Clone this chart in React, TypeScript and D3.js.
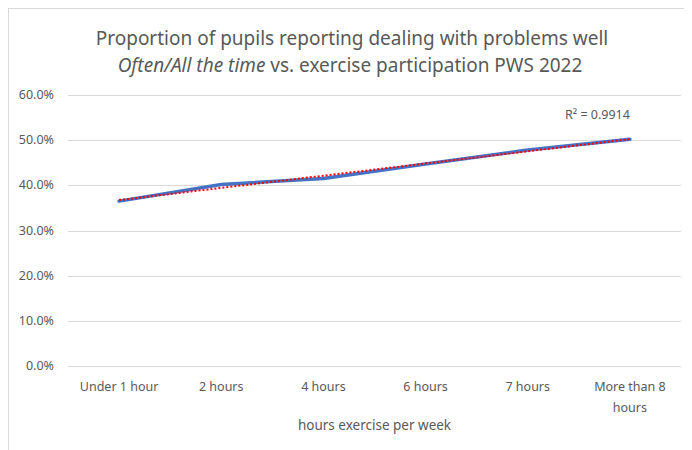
import React, { useEffect, useRef } from "react";
import * as d3 from "d3";

const categories = ["Under 1 hour", "2 hours", "4 hours", "6 hours", "7 hours", "More than 8 hours"];
const proportions = [0.365, 0.402, 0.415, 0.447, 0.478, 0.502];
const yTicks = [0, 0.1, 0.2, 0.3, 0.4, 0.5, 0.6];
const rSquaredLabel = "R² = 0.9914";

const FONT = "'Noto Sans', sans-serif";
const GREY = "#595959";

export default function App() {
  const svgRef = useRef<SVGSVGElement>(null);

  useEffect(() => {
    const svg = d3.select(svgRef.current);
    svg.selectAll("*").remove();

    const width = 684;
    const height = 442;
    const margin = { top: 87, right: 11, bottom: 84, left: 60 };

    // chart frame (only the left and top edges fall inside the picture)
    svg
      .append("rect")
      .attr("x", 0.5)
      .attr("y", 0.5)
      .attr("width", width + 20)
      .attr("height", height + 20)
      .attr("fill", "#fff")
      .attr("stroke", "#d9d9d9");

    const x = d3
      .scaleBand()
      .domain(categories)
      .range([margin.left, width - margin.right])
      .padding(0);

    const y = d3
      .scaleLinear()
      .domain([0, 0.6])
      .range([height - margin.bottom, margin.top]);

    // gridlines
    svg
      .append("g")
      .selectAll("line")
      .data(yTicks)
      .enter()
      .append("line")
      .attr("x1", margin.left)
      .attr("x2", width - margin.right)
      .attr("y1", (d) => Math.round(y(d)) + 0.5)
      .attr("y2", (d) => Math.round(y(d)) + 0.5)
      .attr("stroke", "#d9d9d9")
      .attr("stroke-width", 1);

    // y tick labels
    svg
      .append("g")
      .selectAll("text")
      .data(yTicks)
      .enter()
      .append("text")
      .attr("x", margin.left - 14)
      .attr("y", (d) => y(d) + 4)
      .attr("text-anchor", "end")
      .style("font-family", FONT)
      .style("font-size", "12.5px")
      .attr("fill", GREY)
      .text((d) => d3.format(".1%")(d));

    // x tick labels (wrapped like the original)
    const xLabels = svg.append("g");
    categories.forEach((c) => {
      const cx = x(c)! + x.bandwidth() / 2;
      const lines = c === "More than 8 hours" ? ["More than 8", "hours"] : [c];
      lines.forEach((l, i) => {
        xLabels
          .append("text")
          .attr("x", cx)
          .attr("y", height - margin.bottom + 25 + i * 21)
          .attr("text-anchor", "middle")
          .style("font-family", FONT)
          .style("font-size", "12.5px")
          .attr("fill", GREY)
          .text(l);
      });
    });

    // axis title
    svg
      .append("text")
      .attr("x", (margin.left + width - margin.right) / 2)
      .attr("y", height - 20)
      .attr("text-anchor", "middle")
      .style("font-family", FONT)
      .style("font-size", "13.5px")
      .attr("fill", GREY)
      .text("hours exercise per week");

    // chart title
    const title = svg
      .append("text")
      .attr("text-anchor", "middle")
      .style("font-family", FONT)
      .style("font-size", "19px")
      .attr("fill", GREY);
    title.append("tspan").attr("x", 344).attr("y", 37).text("Proportion of pupils reporting dealing with problems well");
    const line2 = title.append("tspan").attr("x", 342).attr("y", 64);
    line2.append("tspan").style("font-style", "italic").text("Often/All the time");
    line2.append("tspan").text(" vs. exercise participation PWS 2022");

    const cx = (c: string) => x(c)! + x.bandwidth() / 2;

    // data line
    const line = d3
      .line<number>()
      .x((_, i) => cx(categories[i]))
      .y((d) => y(d));

    svg
      .append("path")
      .datum(proportions)
      .attr("d", line)
      .attr("fill", "none")
      .attr("stroke", "#4472c4")
      .attr("stroke-width", 3.5)
      .attr("stroke-linecap", "round")
      .attr("stroke-linejoin", "round");

    // linear trendline (least squares on category index)
    const idx = proportions.map((_, i) => i + 1);
    const mx = d3.mean(idx)!;
    const my = d3.mean(proportions)!;
    const slope =
      d3.sum(idx, (xi, i) => (xi - mx) * (proportions[i] - my)) /
      d3.sum(idx, (xi) => (xi - mx) ** 2);
    const intercept = my - slope * mx;
    const first = categories[0];
    const last = categories[categories.length - 1];

    svg
      .append("line")
      .attr("x1", cx(first))
      .attr("y1", y(intercept + slope * 1))
      .attr("x2", cx(last))
      .attr("y2", y(intercept + slope * categories.length))
      .attr("stroke", "#ff0000")
      .attr("stroke-width", 2)
      .attr("stroke-dasharray", "2 2");

    // R² label
    svg
      .append("text")
      .attr("x", cx(last))
      .attr("y", y(0.5) - 21)
      .attr("text-anchor", "end")
      .style("font-family", FONT)
      .style("font-size", "12.5px")
      .attr("fill", GREY)
      .text(rSquaredLabel);
  }, []);

  return <svg ref={svgRef} width={684} height={442} style={{ display: "block" }}></svg>;
}
